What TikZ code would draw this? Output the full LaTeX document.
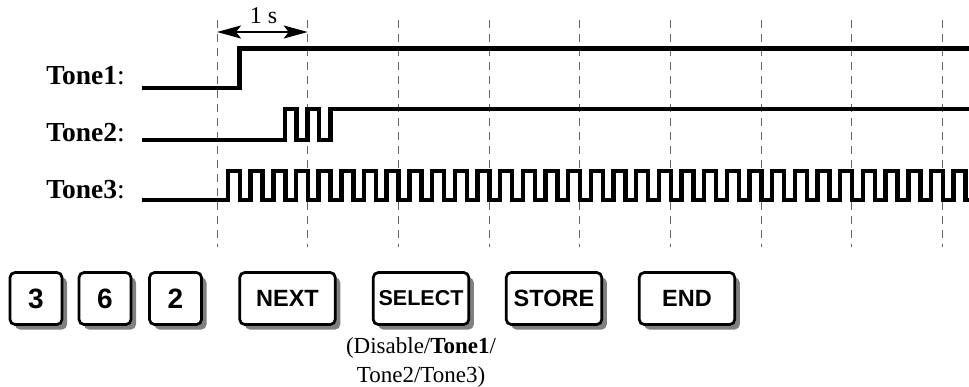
\documentclass[tikz,border=0pt]{standalone}
\usepackage{fontspec}
\setmainfont{Liberation Serif}
\setsansfont{Liberation Sans}
\usetikzlibrary{arrows.meta,shadows}
\begin{document}
\begin{tikzpicture}[x=1pt,y=-1pt,
  wave/.style={line width=4.5pt, line join=miter},
  guide/.style={line width=1pt, draw=black!60, dash pattern=on 8pt off 6pt},
  keybox/.style={draw, line width=2.7pt, rounded corners=5pt, fill=white,
    minimum height=52pt, inner sep=0pt,
    drop shadow={shadow xshift=5pt, shadow yshift=-5pt, fill=black!50, opacity=1},
    font=\sffamily\bfseries\fontsize{23.5}{23.5}\selectfont},
  digitkey/.style={keybox, minimum width=52pt, font=\sffamily\bfseries\fontsize{28}{28}\selectfont},
  wordkey/.style={keybox, minimum width=95.5pt},
  tonelabel/.style={anchor=base east, inner sep=0pt, font=\fontsize{27.5}{27.5}\selectfont},
  note/.style={anchor=base, inner sep=0pt, font=\fontsize{23}{23}\selectfont},
  span/.style={line width=2pt, {Stealth[length=24pt,width=13pt,inset=5pt]}-{Stealth[length=24pt,width=13pt,inset=5pt]}}
]
\useasboundingbox (0,0) rectangle (969,386);

% guide lines
\foreach \k in {0,...,8} {
  \coordinate (gt\k) at ({217+90.7*\k},20);
  \coordinate (gb\k) at ({217+90.7*\k},247);
  \draw[guide] (gt\k) -- (gb\k);
}

% 1 s span
\coordinate (sa) at (217,32);
\coordinate (sb) at (307.7,32);
\draw[span] (sa) -- (sb);
\node[note, font=\fontsize{24}{24}\selectfont] (onesec) at (263.5,23) {1 s};

% labels
\node[tonelabel] (t1) at (125,84) {\textbf{Tone1}:};
\node[tonelabel] (t2) at (125,141) {\textbf{Tone2}:};
\node[tonelabel] (t3) at (125,198) {\textbf{Tone3}:};

\begin{scope}
\clip (0,0) rectangle (969,386);
% Tone1
\draw[wave] (142,88) -- (239.7,88) -- (239.7,48.5) -- (975,48.5);
% Tone2
\draw[wave] (142,140) -- (285,140) -- (285,109) -- (296.3,109) -- (296.3,140)
  -- (307.7,140) -- (307.7,109) -- (319,109) -- (319,140) -- (330.3,140)
  -- (330.3,109) -- (975,109);
% Tone3
\draw[wave] (142,200)
  \foreach \k [evaluate=\k as \xa using 228+22.675*\k,
               evaluate=\k as \xb using 240+22.675*\k] in {0,...,32}
  { -- (\xa,200) -- (\xa,171) -- (\xb,171) -- (\xb,200) } -- (975,200);
\end{scope}

% keys
\node[digitkey] (k3) at (36,298.5) {3};
\node[digitkey] (k6) at (105,298.5) {6};
\node[digitkey] (k2) at (175.5,298.5) {2};
\node[wordkey] (knext) at (287.5,298.5) {NEXT};
\node[wordkey, font=\sffamily\bfseries\fontsize{21.5}{21.5}\selectfont] (ksel) at (421,298.5) {SELECT};
\node[wordkey] (kstore) at (554,298.5) {STORE};
\node[wordkey] (kend) at (687,298.5) {END};

\node[note] (n1) at (421,353) {(Disable/\textbf{Tone1}/};
\node[note] (n2) at (421,382) {Tone2/Tone3)};
\end{tikzpicture}
\end{document}
